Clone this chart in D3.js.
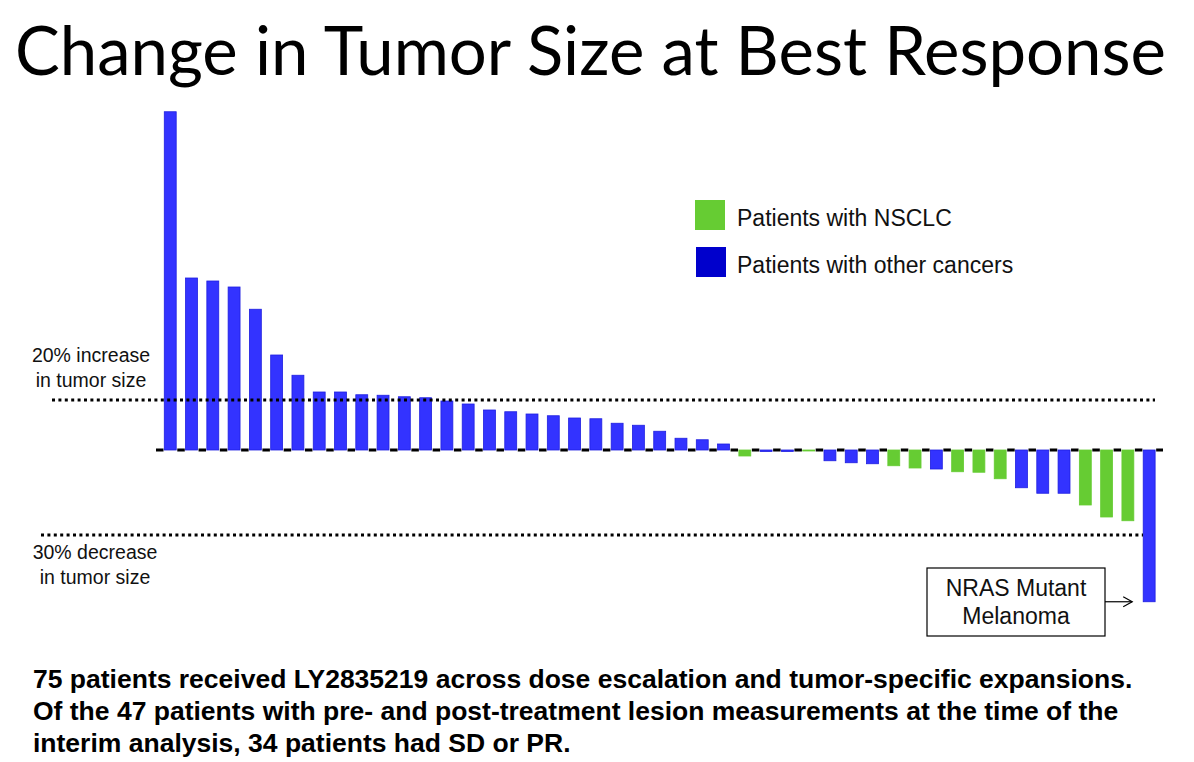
<!DOCTYPE html>
<html>
<head>
<meta charset="utf-8">
<script src="https://cdn.jsdelivr.net/npm/d3@7"></script>
<style>
  html, body { margin: 0; padding: 0; background: #fff; }
  svg { display: block; }
</style>
</head>
<body>
<svg id="chart" width="1194" height="762"></svg>
<script>
// ---- data ----
const patients = d3.range(1, 48);
const changes = [
  135.3, 68.8, 67.6, 65.2, 56.3, 38.0, 29.9, 23.2, 23.2, 22.1,
  21.9, 21.3, 20.9, 19.6, 18.4, 16.0, 15.3, 14.4, 13.7, 12.8,
  12.5, 10.7, 9.9, 7.5, 4.7, 4.1, 2.4, -2.4, -0.6, -0.6,
  -0.4, -4.3, -5.1, -5.5, -6.3, -7.2, -7.6, -8.7, -8.9, -11.5,
  -15.1, -17.3, -17.3, -22.0, -26.8, -28.3, -60.7
];
const groups = [
  "other","other","other","other","other","other","other","other","other","other",
  "other","other","other","other","other","other","other","other","other","other",
  "other","other","other","other","other","other","other","NSCLC","other","other",
  "NSCLC","other","other","other","NSCLC","NSCLC","other","NSCLC","NSCLC","NSCLC",
  "other","other","other","NSCLC","NSCLC","NSCLC","other"
];
const legendKeys = ["NSCLC", "other"];
const legendLabels = ["Patients with NSCLC", "Patients with other cancers"];
const refValues = [20, -34];
const refLabels = [["20% increase", "in tumor size"], ["30% decrease", "in tumor size"]];
const titleText = "Change in Tumor Size at Best Response";
const calloutLines = ["NRAS Mutant", "Melanoma"];
const footnoteLines = [
  "75 patients received LY2835219 across dose escalation and tumor-specific expansions.",
  "Of the 47 patients with pre- and post-treatment lesion measurements at the time of the",
  "interim analysis, 34 patients had SD or PR."
];

// ---- setup ----
const svg = d3.select("#chart");
const barFill = { NSCLC: "#66cc33", other: "#3333ff" };
const barStroke = { NSCLC: "#66cc33", other: "#1f1fe0" };
const legendFill = { NSCLC: "#66cc33", other: "#0000cc" };
const sans = "'Liberation Sans', Arial, sans-serif";

const x = d3.scaleBand().domain(patients).range([159.6, 1159.8])
  .paddingInner(0.44).paddingOuter(0.22);
const y = d3.scaleLinear().domain([-70, 140]).range([625, 100]);

// title
svg.append("text")
  .attr("x", 15).attr("y", 75)
  .attr("font-family", "Lato, 'Open Sans', sans-serif")
  .attr("font-size", 67)
  .attr("fill", "#000")
  .attr("textLength", 1151)
  .attr("lengthAdjust", "spacingAndGlyphs")
  .text(titleText);

// zero line (dashed, behind bars)
svg.append("line")
  .attr("x1", 156).attr("x2", 1163)
  .attr("y1", y(0)).attr("y2", y(0))
  .attr("stroke", "#000").attr("stroke-width", 3)
  .attr("stroke-dasharray", "7.5 13.78");

// bars
const data = patients.map((p, i) => ({ p, v: changes[i], g: groups[i] }));
svg.append("g").selectAll("rect").data(data).join("rect")
  .attr("x", d => x(d.p))
  .attr("width", x.bandwidth())
  .attr("y", d => Math.min(y(d.v), y(0)))
  .attr("height", d => Math.max(1, Math.abs(y(d.v) - y(0))))
  .attr("fill", d => barFill[d.g])
  .attr("stroke", d => barStroke[d.g])
  .attr("stroke-width", 0.8);

// reference dotted lines (on top)
const refStart = [52, 41];
const refEnd = [1155, 1143];
refValues.forEach((v, i) => {
  svg.append("line")
    .attr("x1", refStart[i]).attr("x2", refEnd[i])
    .attr("y1", y(v)).attr("y2", y(v))
    .attr("stroke", "#000").attr("stroke-width", 3)
    .attr("stroke-dasharray", "3 3.4");
});

// reference labels
const refLabelX = [91, 95];
const refLabelY = [[362, 387], [559, 584]];
refLabels.forEach((lines, i) => {
  lines.forEach((t, j) => {
    svg.append("text")
      .attr("x", refLabelX[i]).attr("y", refLabelY[i][j])
      .attr("text-anchor", "middle")
      .attr("font-family", sans)
      .attr("font-size", 19.5)
      .attr("fill", "#111")
      .text(t);
  });
});

// legend
legendKeys.forEach((k, i) => {
  const ly = 200 + i * 47;
  svg.append("rect")
    .attr("x", 695 + i).attr("y", ly)
    .attr("width", 30).attr("height", 30)
    .attr("fill", legendFill[k]);
  svg.append("text")
    .attr("x", 737).attr("y", ly + 26)
    .attr("font-family", sans)
    .attr("font-size", 23)
    .attr("fill", "#111")
    .text(legendLabels[i]);
});

// callout box + arrow
const last = data[data.length - 1];
const boxX = 927, boxY = 568, boxW = 178, boxH = 68;
svg.append("rect")
  .attr("x", boxX).attr("y", boxY).attr("width", boxW).attr("height", boxH)
  .attr("fill", "#fff").attr("stroke", "#000").attr("stroke-width", 1.2);
calloutLines.forEach((t, j) => {
  svg.append("text")
    .attr("x", boxX + boxW / 2).attr("y", 596 + j * 28)
    .attr("text-anchor", "middle")
    .attr("font-family", sans)
    .attr("font-size", 23)
    .attr("fill", "#111")
    .text(t);
});
const ay = y(last.v);
const ax2 = x(last.p) - 11;
svg.append("line")
  .attr("x1", boxX + boxW).attr("x2", ax2).attr("y1", ay).attr("y2", ay)
  .attr("stroke", "#000").attr("stroke-width", 1.2);
svg.append("path")
  .attr("d", `M${ax2 - 9},${ay - 5} L${ax2},${ay} L${ax2 - 9},${ay + 5}`)
  .attr("fill", "none").attr("stroke", "#000").attr("stroke-width", 1.2);

// footnote
footnoteLines.forEach((t, j) => {
  svg.append("text")
    .attr("x", 33).attr("y", 688 + j * 32)
    .attr("font-family", sans)
    .attr("font-weight", "bold")
    .attr("font-size", 26.5)
    .attr("fill", "#000")
    .text(t);
});
</script>
</body>
</html>
